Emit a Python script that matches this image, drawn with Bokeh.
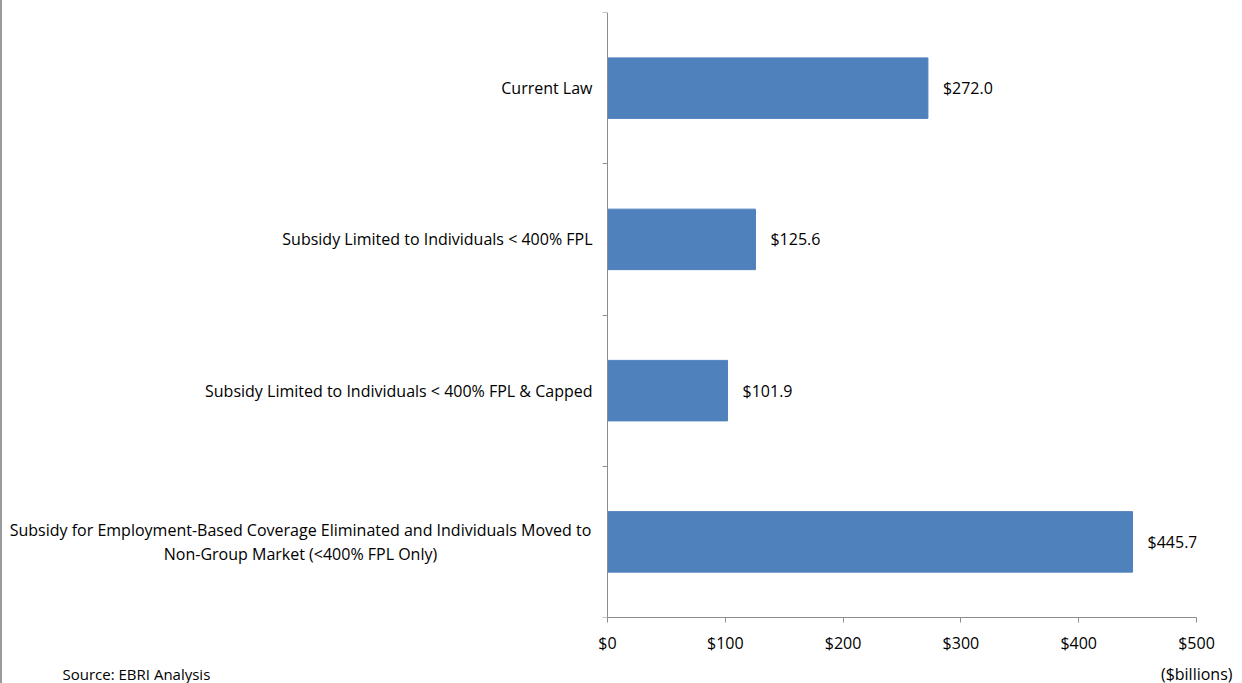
from bokeh.plotting import figure
from bokeh.models import Range1d, FixedTicker, Title, ColumnDataSource
from bokeh.core.properties import value
from bokeh.embed import file_html
from bokeh.resources import INLINE

categories = [
    "Current Law",
    "Subsidy Limited to Individuals < 400% FPL",
    "Subsidy Limited to Individuals < 400% FPL & Capped",
    "Subsidy for Employment-Based Coverage Eliminated and Individuals Moved to\nNon-Group Market (<400% FPL Only)",
]
values = [272.0, 125.6, 101.9, 445.7]
value_labels = ["$272.0", "$125.6", "$101.9", "$445.7"]
x_ticks = [0, 100, 200, 300, 400, 500]
x_tick_labels = ["$0", "$100", "$200", "$300", "$400", "$500"]
unit_label = "($billions)"
source_note = "Source: EBRI Analysis"

FONT = "Open Sans"
FS = "16px"
BAR = "#4F81BD"
AXIS = "#8C8C8C"
TXT = "#000000"

X_MAX = 500
n = len(categories)
ypos = [n - i - 0.5 for i in range(n)]

# layout: plotting area 589 px wide for 0..500, category text area 607 px to its left
AREA_W, LEFT_W = 589, 607
x_start = -X_MAX * LEFT_W / AREA_W

src = ColumnDataSource(dict(y=ypos, v=values, lab=value_labels))
multi = ["\n" in c for c in categories]
cat_src = ColumnDataSource(dict(
    y=ypos, name=categories,
    align=["center" if m else "right" for m in multi],
    xoff=[-307 if m else -15 for m in multi],
))

p = figure(
    frame_width=LEFT_W + AREA_W, frame_height=605,
    min_border_left=0, min_border_right=38, min_border_top=12, min_border_bottom=66,
    x_range=Range1d(x_start, X_MAX), y_range=Range1d(0, n),
    output_backend="svg", toolbar_location=None,
)
p.outline_line_color = None
p.background_fill_color = None
p.border_fill_color = None
p.styles = {"box-shadow": "inset 2px 0 0 #9a9a9a", "background-color": "#ffffff"}
p.xgrid.visible = False
p.ygrid.visible = False

p.hbar(y="y", right="v", left=0, height=0.4, color=BAR, source=src)
p.text(x="v", y="y", text="lab", source=src, x_offset=15, text_align="left",
       text_baseline="middle", text_font=value(FONT), text_font_size=FS, text_color=TXT)
p.text(x=0, y="y", text="name", source=cat_src, x_offset="xoff", text_align="align",
       text_baseline="middle", text_line_height=1.1,
       text_font=value(FONT), text_font_size=FS, text_color=TXT)

xa = p.xaxis[0]
xa.ticker = FixedTicker(ticks=x_ticks)
xa.bounds = (0, X_MAX)
xa.major_label_overrides = {t: l for t, l in zip(x_ticks, x_tick_labels)}
xa.axis_line_color = AXIS
xa.major_tick_line_color = AXIS
xa.major_tick_in = 0
xa.major_tick_out = 5
xa.minor_tick_line_color = None
xa.major_label_text_font = FONT
xa.major_label_text_font_size = FS
xa.major_label_text_color = TXT
xa.major_label_standoff = 9

ya = p.yaxis[0]
ya.fixed_location = 0
ya.ticker = FixedTicker(ticks=ypos, minor_ticks=list(range(n + 1)))
ya.major_label_text_font_size = "0px"
ya.major_label_text_color = None
ya.axis_line_color = AXIS
ya.major_tick_line_color = None
ya.major_tick_in = 0
ya.major_tick_out = 0
ya.minor_tick_line_color = AXIS
ya.minor_tick_in = 0
ya.minor_tick_out = 5

t_unit = Title(text=unit_label, align="right", offset=-36, standoff=8,
               text_font=FONT, text_font_size=FS, text_font_style="normal", text_color=TXT)
t_src = Title(text=source_note, align="left", offset=62, standoff=-50,
              vertical_align="top",
              text_font=FONT, text_font_size="15px", text_font_style="normal", text_color=TXT)
p.add_layout(t_unit, "below")
p.add_layout(t_src, "below")

open("out.html", "w").write(file_html(p, INLINE))
